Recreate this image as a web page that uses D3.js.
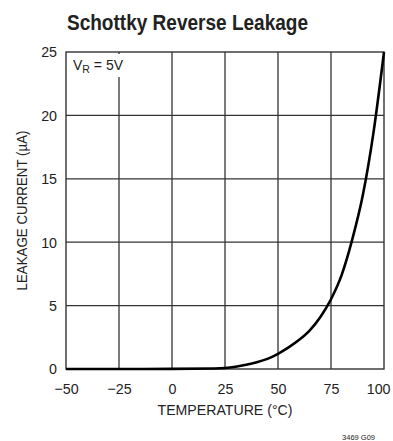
<!DOCTYPE html>
<html>
<head>
<meta charset="utf-8">
<script src="https://cdn.jsdelivr.net/npm/d3@7"></script>
<style>
  body { margin: 0; background: #fff; }
  svg { display: block; }
  text { font-family: "Liberation Sans Narrow", "Arial Narrow", "Liberation Sans", Arial, sans-serif; fill: #222; }
</style>
</head>
<body>
<div id="chart"></div>
<script>
// leakage current (uA) vs temperature (C)
var temps = [-50, -25, 0, 20, 25, 30, 35, 40, 45, 50, 55, 60, 65, 70, 75, 80, 85, 90, 95, 100];
var leakage = [0, 0, 0.01, 0.04, 0.08, 0.18, 0.33, 0.53, 0.8, 1.2, 1.7, 2.3, 3.05, 4.1, 5.5, 7.4, 10.2, 13.7, 18.6, 25];
var xTicks = [-50, -25, 0, 25, 50, 75, 100];
var yTicks = [0, 5, 10, 15, 20, 25];

var width = 393, height = 441,
    margin = {top: 52, right: 9, bottom: 72, left: 66},
    gridcolor = '#333',
    linecolor = '#000',
    squeeze = 0.95;

var svg = d3.select('#chart').append('svg')
    .attr('width', width)
    .attr('height', height);

var x = d3.scaleLinear().domain([-50, 100]).range([margin.left, width - margin.right]);
var y = d3.scaleLinear().domain([0, 25]).range([height - margin.bottom, margin.top]);

var narrow = function (sel) {
    sel.each(function () {
        var w = this.getComputedTextLength();
        d3.select(this).attr('textLength', w * squeeze).attr('lengthAdjust', 'spacingAndGlyphs');
    });
};

// title
svg.append('text')
    .attr('x', 67).attr('y', 30)
    .attr('font-size', 22).attr('font-weight', 'bold')
    .attr('textLength', 241).attr('lengthAdjust', 'spacingAndGlyphs')
    .text('Schottky Reverse Leakage');

// grid
svg.append('g').selectAll('line')
    .data(xTicks.slice(1, -1))
    .enter().append('line')
    .attr('x1', function (d) { return x(d); })
    .attr('x2', function (d) { return x(d); })
    .attr('y1', y(0)).attr('y2', y(25))
    .attr('stroke', gridcolor).attr('stroke-width', 1.3);

svg.append('g').selectAll('line')
    .data(yTicks.slice(1, -1))
    .enter().append('line')
    .attr('y1', function (d) { return y(d); })
    .attr('y2', function (d) { return y(d); })
    .attr('x1', x(-50)).attr('x2', x(100))
    .attr('stroke', gridcolor).attr('stroke-width', 1.3);

svg.append('rect')
    .attr('x', x(-50)).attr('y', y(25))
    .attr('width', x(100) - x(-50)).attr('height', y(0) - y(25))
    .attr('fill', 'none').attr('stroke', gridcolor).attr('stroke-width', 1.4);

// tick labels via d3 axes, lines hidden
var xAxis = svg.append('g')
    .attr('transform', 'translate(0,' + y(0) + ')')
    .call(d3.axisBottom(x).tickValues(xTicks).tickSize(0).tickPadding(14)
        .tickFormat(function (d) { return String(d).replace('-', '\u2212'); }));
xAxis.select('.domain').remove();
xAxis.selectAll('text').attr('font-size', 15).attr('fill', '#222')
    .style('font-family', '"Liberation Sans", Arial, sans-serif')
    .call(narrow);
// keep the last label inside the page
xAxis.selectAll('text').filter(function (d) { return d === 100; })
    .attr('text-anchor', 'end').attr('x', width - x(100) - 3);

var yAxis = svg.append('g')
    .attr('transform', 'translate(' + x(-50) + ',0)')
    .call(d3.axisLeft(y).tickValues(yTicks).tickSize(0).tickPadding(9));
yAxis.select('.domain').remove();
yAxis.selectAll('text').attr('font-size', 15).attr('fill', '#222')
    .style('font-family', '"Liberation Sans", Arial, sans-serif')
    .call(narrow);

// annotation, white box hides the grid line behind it
svg.append('rect')
    .attr('x', x(-50) + 3).attr('y', y(25) + 2)
    .attr('width', 58).attr('height', 23)
    .attr('fill', '#fff');
var ann = svg.append('text')
    .attr('x', 73).attr('y', 70)
    .attr('font-size', 14);
ann.append('tspan').text('V');
ann.append('tspan').attr('font-size', 10.5).attr('dy', 3).text('R');
ann.append('tspan').attr('dy', -3).text(' = 5V');

// axis titles
svg.append('text')
    .attr('x', (x(-50) + x(100)) / 2).attr('y', 415)
    .attr('text-anchor', 'middle').attr('font-size', 15)
    .attr('textLength', 135).attr('lengthAdjust', 'spacingAndGlyphs')
    .text('TEMPERATURE (\u00B0C)');

svg.append('text')
    .attr('transform', 'translate(27,' + ((y(0) + y(25)) / 2) + ') rotate(-90)')
    .attr('text-anchor', 'middle').attr('font-size', 14.5)
    .attr('textLength', 160).attr('lengthAdjust', 'spacingAndGlyphs')
    .text('LEAKAGE CURRENT (\u00B5A)');

// curve
var line = d3.line()
    .x(function (d, i) { return x(temps[i]); })
    .y(function (d) { return y(d); })
    .curve(d3.curveMonotoneX);

svg.append('path')
    .datum(leakage)
    .attr('d', line)
    .attr('fill', 'none')
    .attr('stroke', linecolor)
    .attr('stroke-width', 2.6);

// part number
svg.append('text')
    .attr('x', 375).attr('y', 440)
    .attr('text-anchor', 'end').attr('font-size', 7.5)
    .text('3469 G09');
</script>
</body>
</html>
